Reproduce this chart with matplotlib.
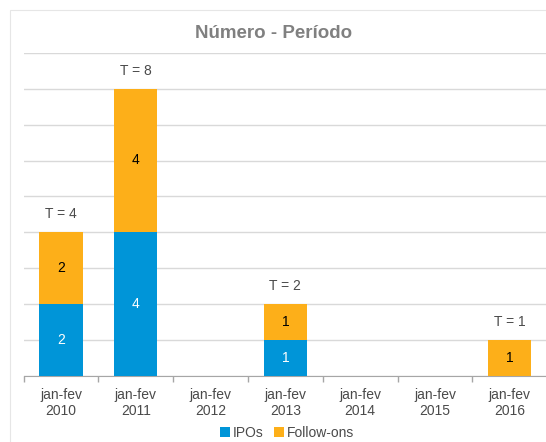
import numpy as np
import matplotlib.pyplot as plt
from matplotlib.patches import Rectangle

plt.rcParams['font.family'] = ['Liberation Sans', 'DejaVu Sans']

# Data
periods = ["jan-fev\n2010", "jan-fev\n2011", "jan-fev\n2012", "jan-fev\n2013",
           "jan-fev\n2014", "jan-fev\n2015", "jan-fev\n2016"]
ipos = [2, 4, 0, 1, 0, 0, 0]
follow_ons = [2, 4, 0, 1, 0, 0, 1]
totals = [4, 8, 0, 2, 0, 0, 1]

blue = "#0095D8"
orange = "#FDAF19"
text_col = "#4A4A4A"

fig = plt.figure(figsize=(5.46, 4.42), dpi=100)
fig.patches.append(Rectangle((10 / 546, -0.01), 1.0, 1 - 10 / 442 + 0.01,
                             transform=fig.transFigure, fill=False,
                             edgecolor="#E6E6E6", linewidth=0.8))
ax = fig.add_axes([23.6 / 546, 1 - 375.5 / 442, 523.5 / 546, 322.5 / 442])

x = np.arange(len(periods))
w = 0.58
b1 = ax.bar(x, ipos, w, color=blue, label="IPOs", zorder=3)
b2 = ax.bar(x, follow_ons, w, bottom=ipos, color=orange, label="Follow-ons", zorder=3)

# value labels inside bars
for i in range(len(x)):
    if ipos[i] > 0:
        ax.text(x[i], ipos[i] / 2, str(ipos[i]), ha="center", va="center",
                color="white", fontsize=10, zorder=4)
    if follow_ons[i] > 0:
        ax.text(x[i], ipos[i] + follow_ons[i] / 2, str(follow_ons[i]), ha="center",
                va="center", color="black", fontsize=10, zorder=4)
    if totals[i] > 0:
        ax.text(x[i], totals[i] + 0.5, "T = %d" % totals[i], ha="center",
                va="center", color=text_col, fontsize=10, zorder=4)

ax.set_xlim(-0.5, len(x) - 0.5)
ax.set_ylim(0, 9)
ax.set_yticks(np.arange(0, 10, 1))
ax.yaxis.grid(True, color="#D9D9D9", linewidth=1.0, zorder=0)
ax.tick_params(axis="y", left=False, labelleft=False)
ax.set_xticks(x)
ax.set_xticklabels(periods, fontsize=10, color=text_col, linespacing=1.15)
ax.set_xticks(np.arange(-0.5, len(x), 1), minor=True)
ax.tick_params(axis="x", which="major", length=0, pad=9)
ax.tick_params(axis="x", which="minor", length=4, color="#A6A6A6", width=1)
for s in ["top", "right", "left"]:
    ax.spines[s].set_visible(False)
ax.spines["bottom"].set_color("#A6A6A6")

fig.text(274 / 546, 1 - 33 / 442, "Número - Período", fontsize=13.5,
         fontweight="bold", color="#808080", ha="center", va="center")

fig.legend(handles=[b1, b2], labels=["IPOs", "Follow-ons"], loc="center",
           bbox_to_anchor=(287 / 546, 1 - 433 / 442), ncol=2, frameon=False,
           fontsize=10, handlelength=0.7, handleheight=0.7, handletextpad=0.2,
           columnspacing=0.8, labelcolor=text_col)

fig.savefig("out.png", dpi=100)
